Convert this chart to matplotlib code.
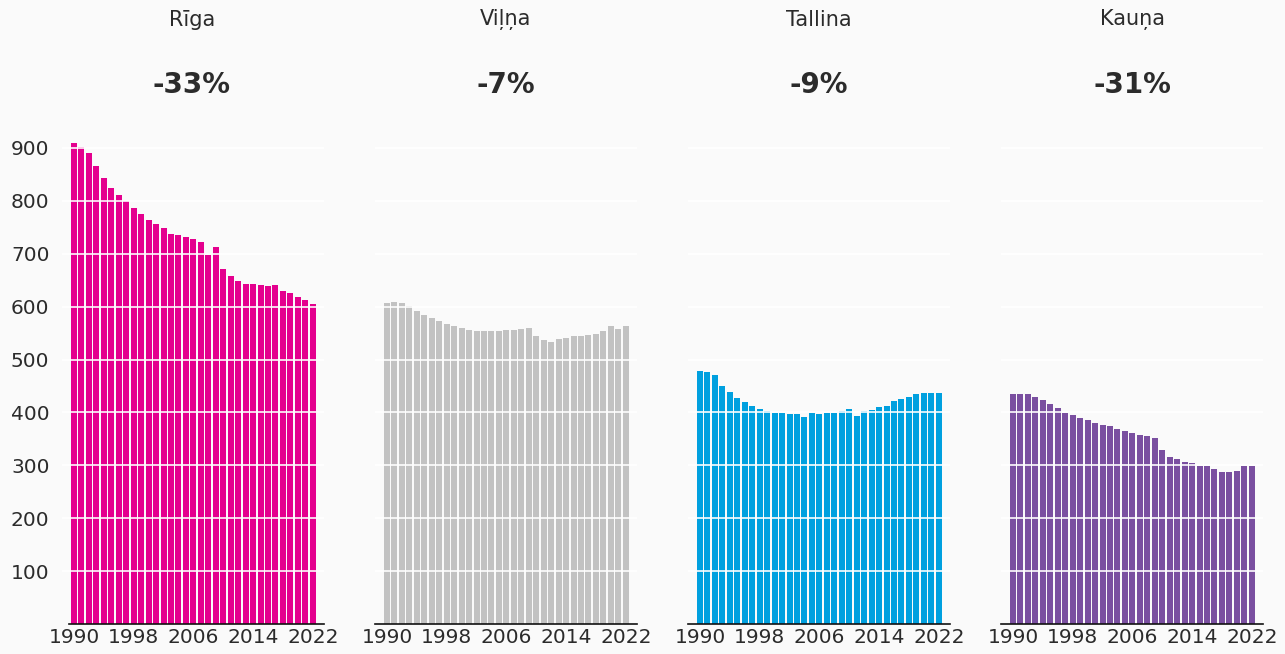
import numpy as np
import matplotlib
matplotlib.use("Agg")
import matplotlib.pyplot as plt

years = list(range(1990, 2023))

riga = [910, 901, 890, 865, 843, 825, 811, 799, 787, 775, 764, 756, 748, 738,
        735, 732, 727, 723, 698, 713, 672, 658, 648, 642, 642, 640, 639, 640,
        630, 625, 619, 613, 605]
vilnius = [606, 608, 606, 601, 592, 585, 578, 573, 567, 563, 559, 555, 553,
           553, 553, 553, 555, 555, 557, 559, 544, 536, 534, 538, 540, 544,
           544, 546, 548, 553, 563, 557, 563]
tallinn = [479, 477, 470, 450, 438, 428, 420, 413, 406, 403, 399, 399, 397,
           397, 391, 399, 397, 399, 399, 403, 406, 393, 403, 404, 410, 413,
           422, 426, 430, 434, 437, 437, 437]
kaunas = [434, 434, 434, 430, 424, 416, 409, 399, 396, 389, 386, 380, 376,
          374, 368, 364, 361, 357, 355, 351, 329, 316, 311, 307, 305, 299,
          298, 293, 288, 288, 289, 299, 298]

cities = ["Rīga", "Viļņa", "Tallina", "Kauņa"]
changes = ["-33%", "-7%", "-9%", "-31%"]
series = [riga, vilnius, tallinn, kaunas]
colors = ["#e4008e", "#c2c2c2", "#00a0df", "#7a4fa0"]

xticks = [1990, 1998, 2006, 2014, 2022]
yticks = [100, 200, 300, 400, 500, 600, 700, 800, 900]

bg = "#fafafa"
text_color = "#2b2b2b"

W, H = 1285, 654
fig = plt.figure(figsize=(W / 100, H / 100), dpi=100, facecolor=bg)

lefts = [62, 375, 688, 1001]
ax_w = 262
bottom_px = 624
ymax = 950
top_px = bottom_px - ymax * 0.529

for i, (name, chg, vals, col) in enumerate(zip(cities, changes, series, colors)):
    ax = fig.add_axes([lefts[i] / W, 1 - bottom_px / H, ax_w / W,
                       (bottom_px - top_px) / H])
    ax.set_facecolor(bg)
    ax.bar(years, vals, width=0.8, color=col, linewidth=0, zorder=2)
    ax.set_xlim(1988.4, 2023.5)
    ax.set_ylim(0, ymax)
    ax.set_yticks(yticks)
    ax.set_xticks(xticks)
    ax.grid(axis="y", color="white", linewidth=1.3, alpha=0.9, zorder=3)
    ax.set_axisbelow(False)
    for s in ["top", "right", "left"]:
        ax.spines[s].set_visible(False)
    ax.spines["bottom"].set_color("#111111")
    ax.spines["bottom"].set_linewidth(1.2)
    ax.spines["bottom"].set_zorder(4)
    ax.tick_params(axis="both", length=0, labelsize=14.5, colors=text_color)
    ax.tick_params(axis="x", pad=3)
    if i == 0:
        ax.spines["bottom"].set_bounds(1989.35, 2023.5)
        ax.tick_params(axis="y", pad=-1)
        for lbl in ax.get_yticklabels():
            lbl.set_horizontalalignment("left")
            lbl.set_x(-0.2)
    else:
        ax.set_yticklabels([])

    cx = (lefts[i] + ax_w / 2 - (1 if i == 0 else 0)) / W
    fig.text(cx, 1 - 20 / H, name, ha="center", va="center",
             fontsize=15, color=text_color)
    fig.text(cx, 1 - 85 / H, chg, ha="center", va="center",
             fontsize=20, fontweight="bold", color=text_color)

fig.savefig("out.png", dpi=100, facecolor=bg)
